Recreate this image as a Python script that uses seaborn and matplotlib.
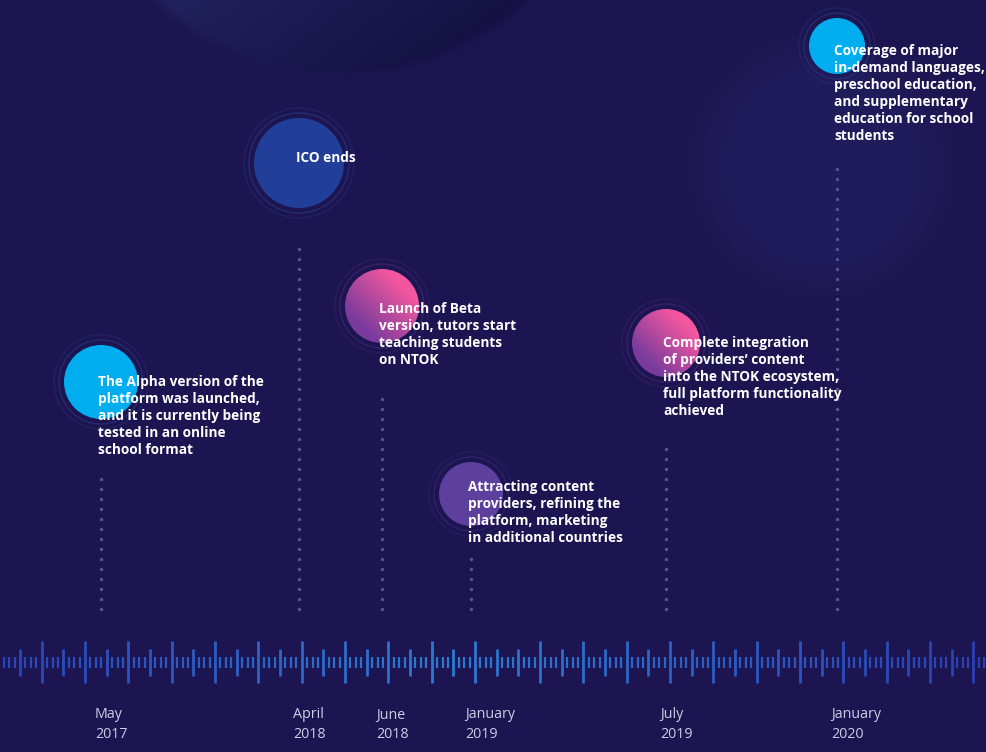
import numpy as np
import pandas as pd
import matplotlib
matplotlib.use("Agg")
import matplotlib.pyplot as plt
from matplotlib.patches import Circle
from matplotlib.colors import to_rgb
import seaborn as sns

# milestones, left to right
milestone_dates = ["May\n2017", "April\n2018", "June\n2018",
                   "January\n2019", "July\n2019", "January\n2020"]
milestone_text = [
    "The Alpha version of the\nplatform was launched,\nand it is currently being\ntested in an online\nschool format",
    "ICO ends",
    "Launch of Beta\nversion, tutors start\nteaching students\non NTOK",
    "Attracting content\nproviders, refining the\nplatform, marketing\nin additional countries",
    "Complete integration\nof providers\u2019 content\ninto the NTOK ecosystem,\nfull platform functionality\nachieved",
    "Coverage of major\nin-demand languages,\npreschool education,\nand supplementary\neducation for school\nstudents",
]
# place on the ruler, bubble height above the ruler, dotted stem height
timeline_pos = [101, 299, 382, 471, 666, 837]
bubble_height = [280, 499, 356, 168, 319, 616]
stem_height = [190, 422, 272, 104, 220, 494]
bubble_radius = [37, 45, 37, 32, 34, 28]
bubble_kind = ["cyan", "blue", "pink", "violet", "pink", "cyan"]
text_shift = [0, 5, -3, 7, 0, -5]  # first text line vs. bubble centre

BG = "#1d1551"
FILL = {"cyan": "#00aeef", "blue": "#213f98", "violet": "#5d3f9e"}
RING = {"cyan": "#2a3f86", "blue": "#2a3f8e", "violet": "#3d2c7c", "pink": "#4f2a78"}
PINK_TOP, PINK_BOTTOM = "#f2579f", "#7a3b9c"

W, H = 986, 752
BASE = 662  # ruler centre, in pixels from the top

sns.set_theme(style="white")
plt.rcParams["font.family"] = ["Open Sans", "DejaVu Sans"]

fig = plt.figure(figsize=(W / 100, H / 100), dpi=100)
fig.patch.set_facecolor(BG)
ax = fig.add_axes([0, 0, 1, 1])
ax.set_xlim(0, W)
ax.set_ylim(BASE - H, BASE)
ax.axis("off")

# soft background spheres
yy, xx = np.mgrid[0:H, 0:W]
img = np.ones((H, W, 3)) * np.array(to_rgb(BG))
d1 = np.hypot(xx - 341, yy + 200) / 278.0
m1 = np.clip((1.0 - d1) / 0.04, 0, 1)
shade = np.clip(((xx - 200) * 0.6 + (yy - 0) * 0.8) / 220.0, 0, 1)
top_col = np.array(to_rgb("#20205c")) * (1 - shade[..., None]) + np.array(to_rgb("#130f40")) * shade[..., None]
img = img * (1 - m1[..., None]) + top_col * m1[..., None]
d2 = np.hypot(xx - 822, yy - 165) / 150.0
m2 = np.clip((1.0 - d2) / 0.45, 0, 1) * 0.7
img = img * (1 - m2[..., None]) + np.array(to_rgb("#221f60")) * m2[..., None]
ax.imshow(img, extent=(0, W, BASE - H, BASE), origin="upper", zorder=0, aspect="auto")

# ruler ticks
def tick_color(x):
    left, mid, right = (np.array(to_rgb(c)) for c in ("#2a44b6", "#2c7bd2", "#2a3fb3"))
    if x < 450:
        t = x / 450
        return left * (1 - t) + mid * t
    t = (x - 450) / (W - 450)
    return mid * (1 - t) + right * t

step = 65 / 3
for j in range(-1, 47):
    xm = 20 + step * j
    is_long = (j % 2 == 1 and j <= 21) or (j % 2 == 0 and j >= 24)
    half = 21 if is_long else 13.5
    ax.vlines(xm, -half, half, color=tick_color(xm), lw=2.0, zorder=2)
    for k in range(1, 4):
        xs = xm + k * step / 4
        ax.vlines(xs, -5.5, 5.5, color=tick_color(xs), lw=1.6, zorder=2)

# dotted stems
stem_rows = []
for pos, top in zip(timeline_pos, stem_height):
    for h in np.arange(53, top + 1, 10):
        stem_rows.append({"x": pos, "y": h})
stems = pd.DataFrame(stem_rows)
sns.scatterplot(data=stems, x="x", y="y", ax=ax, s=6, color="#57548c",
                linewidth=0, zorder=3, legend=False)

# bubbles
for pos, h, r, kind in zip(timeline_pos, bubble_height, bubble_radius, bubble_kind):
    for dr, a in ((5, 0.55), (10, 0.3)):
        ax.add_patch(Circle((pos, h), r + dr, fill=False, ec=RING[kind], lw=1.0, alpha=a, zorder=3))
    if kind == "pink":
        n = 120
        gx, gy = np.meshgrid(np.linspace(-1, 1, n), np.linspace(1, -1, n))
        t = np.clip((gx + gy) / 2.2 + 0.5, 0, 1)[..., None]
        grad = np.array(to_rgb(PINK_BOTTOM)) * (1 - t) + np.array(to_rgb(PINK_TOP)) * t
        clip = Circle((pos, h), r, transform=ax.transData)
        im = ax.imshow(grad, extent=(pos - r, pos + r, h - r, h + r), origin="upper",
                       zorder=4, aspect="auto")
        im.set_clip_path(clip)
    else:
        ax.add_patch(Circle((pos, h), r, color=FILL[kind], lw=0, zorder=4))

# milestone descriptions
for pos, h, dy, txt in zip(timeline_pos, bubble_height, text_shift, milestone_text):
    for i, line in enumerate(txt.split("\n")):
        ax.text(pos - 3, h + dy - i * 16.9, line, color="white", fontsize=9.8,
                fontweight="bold", ha="left", va="center", zorder=5)

# date labels under the ruler
for pos, date in zip(timeline_pos, milestone_dates):
    month, year = date.split("\n")
    ax.text(pos - 6, -53, month, color="#cfcbe4", fontsize=10.3, ha="left", va="center", zorder=5)
    ax.text(pos - 6, -73, year, color="#cfcbe4", fontsize=10.3, ha="left", va="center", zorder=5)

fig.savefig("out.png", dpi=100, facecolor=BG)
